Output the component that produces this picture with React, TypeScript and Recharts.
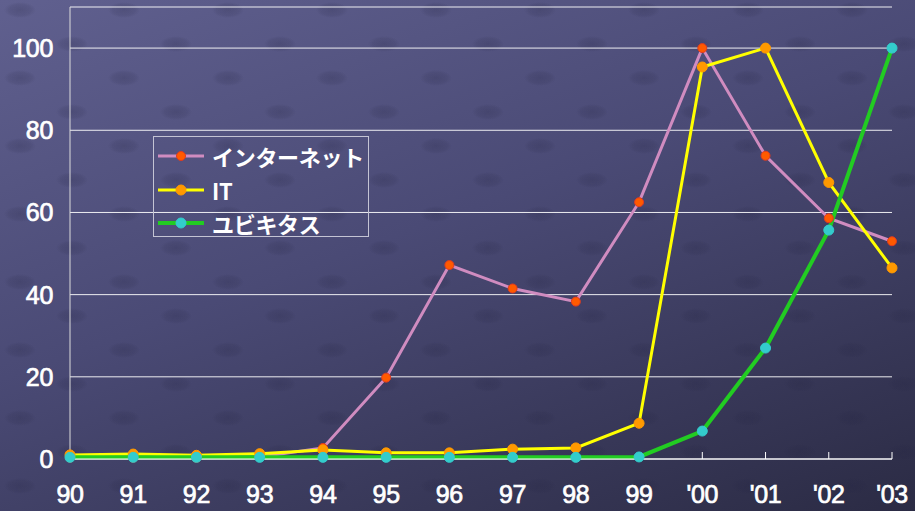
import React from 'react';
import { LineChart, Line, XAxis, YAxis, CartesianGrid, Legend } from 'recharts';

const years = ['90', '91', '92', '93', '94', '95', '96', '97', '98', '99', "'00", "'01", "'02", "'03"];
const internet = [0.3, 0.3, 0.3, 0.5, 2.7, 19.8, 47.2, 41.5, 38.3, 62.5, 100, 73.8, 58.6, 53.0];
const itValues = [1.0, 1.2, 0.9, 1.3, 2.2, 1.5, 1.5, 2.4, 2.7, 8.7, 95.4, 100, 67.3, 46.5];
const ubiquitous = [0.4, 0.4, 0.4, 0.4, 0.4, 0.4, 0.4, 0.4, 0.4, 0.5, 6.8, 27, 55.7, 100];
const seriesNames = ['インターネット', 'IT', 'ユビキタス'];
const yTicks = [0, 20, 40, 60, 80, 100];

const data = years.map((y, i) => ({
  year: y,
  internet: internet[i],
  it: itValues[i],
  ubiquitous: ubiquitous[i],
}));

const seriesStyle = [
  { key: 'internet', name: seriesNames[0], line: '#d08cc0', width: 3, dot: '#ff5a00', dotStroke: '#e03a20', r: 4.5 },
  { key: 'it', name: seriesNames[1], line: '#ffff00', width: 3, dot: '#ff9900', dotStroke: '#ff9900', r: 5 },
  { key: 'ubiquitous', name: seriesNames[2], line: '#22cc22', width: 4, dot: '#33cccc', dotStroke: '#33cccc', r: 5 },
];

const tickFont = {
  fill: '#ffffff',
  stroke: '#ffffff',
  strokeWidth: 0.7,
  fontSize: 25,
  fontWeight: 400,
  fontFamily: '"Liberation Sans", Arial, sans-serif',
  letterSpacing: -0.3,
};

const LegendContent = () => (
  <div
    style={{
      width: 216,
      height: 101,
      border: '1px solid #c4c4d4',
      boxSizing: 'border-box',
      position: 'relative',
    }}
  >
    {seriesStyle.map((s, i) => (
      <div
        key={s.key}
        style={{
          position: 'absolute',
          left: 4,
          top: 19 + i * 33.5 - 16,
          height: 32,
          display: 'flex',
          alignItems: 'center',
        }}
      >
        <svg width={46} height={14} style={{ display: 'block' }}>
          <line x1={0} y1={7} x2={46} y2={7} stroke={s.line} strokeWidth={s.width} />
          <circle cx={23} cy={7} r={s.r} fill={s.dot} stroke={s.dotStroke} strokeWidth={1} />
        </svg>
        <span
          style={{
            marginLeft: 8,
            color: '#ffffff',
            fontFamily: '"Noto Sans CJK JP", "Liberation Sans", sans-serif',
            fontWeight: 700,
            fontSize: 22,
            lineHeight: '32px',
            letterSpacing: -0.3,
            whiteSpace: 'nowrap',
          }}
        >
          {s.name}
        </span>
      </div>
    ))}
  </div>
);

const bump = 'radial-gradient(ellipse 16px 8px at 50% 50%, rgba(35,35,65,0.22) 0%, rgba(35,35,65,0.12) 70%, rgba(0,0,0,0) 100%)';

export default function App() {
  return (
    <div
      style={{
        position: 'fixed',
        left: 0,
        top: 0,
        width: 915,
        height: 511,
        backgroundColor: '#45456e',
        backgroundImage: `${bump}, ${bump}, linear-gradient(160deg, #60608f 0%, #4a4a75 45%, #2b2b44 100%)`,
        backgroundSize: '104px 68px, 104px 68px, 100% 100%',
        backgroundPosition: '20px 10px, 72px 44px, 0 0',
        overflow: 'hidden',
      }}
    >
      <LineChart
        width={915}
        height={511}
        data={data}
        margin={{ top: 7, right: 23, bottom: 22, left: 8 }}
      >
        <CartesianGrid vertical={false} stroke="#ffffff" strokeOpacity={0.9} />
        <XAxis
          dataKey="year"
          interval={0}
          height={30}
          padding={{ left: 0, right: 0 }}
          axisLine={{ stroke: '#ffffff', strokeWidth: 1 }}
          tickLine={{ stroke: '#ffffff', strokeWidth: 1 }}
          tickSize={-7}
          tickMargin={33}
          tick={tickFont}
        />
        <YAxis
          domain={[0, 110]}
          ticks={yTicks}
          width={62}
          axisLine={{ stroke: '#dcdcdc', strokeWidth: 1 }}
          tickLine={false}
          tickSize={0}
          tickMargin={17}
          tick={tickFont}
        />
        <Legend
          content={<LegendContent />}
          layout="vertical"
          align="center"
          verticalAlign="middle"
          wrapperStyle={{ left: 153, top: 136, width: 216, height: 101 }}
        />
        {seriesStyle.map((s) => (
          <Line
            key={s.key}
            dataKey={s.key}
            name={s.name}
            type="linear"
            stroke={s.line}
            strokeWidth={s.width}
            dot={{ r: s.r, fill: s.dot, stroke: s.dotStroke, strokeWidth: 1, fillOpacity: 1 }}
            activeDot={false}
            isAnimationActive={false}
          />
        ))}
      </LineChart>
    </div>
  );
}
